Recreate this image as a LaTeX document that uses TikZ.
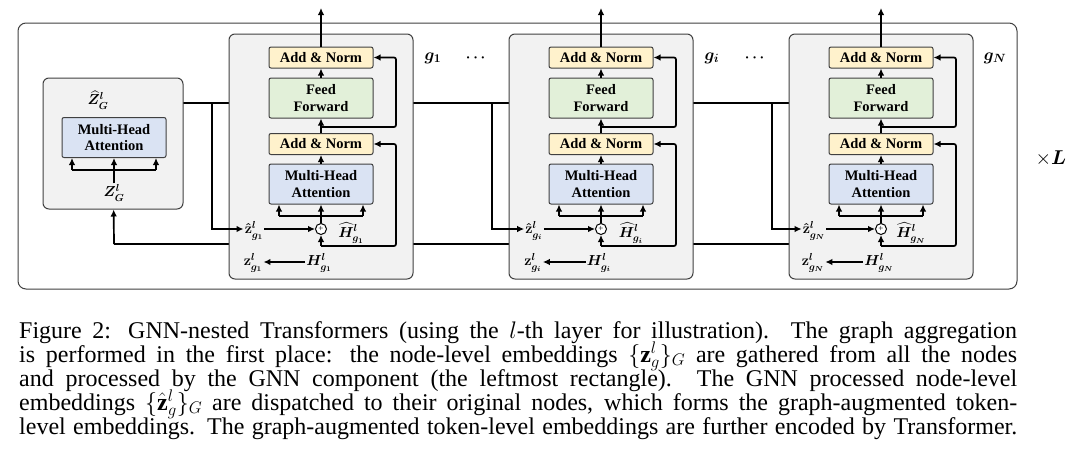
\RequirePackage{fix-cm}
\documentclass[tikz,border=0pt]{standalone}
\usepackage{amsmath,amssymb,bm}
\usepackage{fontspec}
\setmainfont{Liberation Serif}
\usetikzlibrary{arrows.meta,calc}
\definecolor{NormYellow}{RGB}{255,242,204}
\definecolor{FFGreen}{RGB}{226,240,217}
\definecolor{AttnBlue}{RGB}{218,227,243}
\definecolor{PanelGray}{RGB}{242,242,242}
\definecolor{EdgeGray}{RGB}{64,64,64}
\pgfdeclarelayer{back}
\pgfdeclarelayer{boxes}
\pgfsetlayers{back,boxes,main}
\tikzset{
	blk/.style={draw=EdgeGray,rounded corners=2pt,line width=1pt,minimum width=104pt,
		inner sep=0pt,align=center,font=\fontsize{14.5}{16.5}\selectfont\bfseries},
	norm/.style={blk,fill=NormYellow,minimum height=21pt},
	ffn/.style={blk,fill=FFGreen,minimum height=40pt},
	attn/.style={blk,fill=AttnBlue,minimum height=40pt},
	panel/.style={draw=EdgeGray,fill=PanelGray,rounded corners=6pt,line width=1pt},
	outer/.style={draw=EdgeGray,fill=white,rounded corners=8pt,line width=1pt},
	wire/.style={draw=black,line width=1.7pt},
	arr/.style={wire,-{Latex[length=7pt,width=6.5pt]}},
	lbl/.style={inner sep=1pt,font=\boldmath\fontsize{14.5}{16}\selectfont},
	glbl/.style={inner sep=1pt,font=\boldmath\fontsize{17}{19}\selectfont},
	plus/.style={circle,draw=black,line width=1pt,fill=white,minimum size=11pt,inner sep=0pt,
		font=\fontsize{9}{9}\selectfont},
	captxt/.style={anchor=base west,inner sep=0pt,font=\fontsize{24}{24}\selectfont},
}

\begin{document}
\begin{tikzpicture}[x=1pt,y=-1pt]
\useasboundingbox (0,0) rectangle (1080,456);

% GNN component
\node[attn] (gmha) at (114,137.5) {Multi-Head\\Attention};
\node[lbl] (zG) at (114,193) {$Z^{l}_{G}$};
\node[lbl] (zhG) at (98,100) {$\widehat{Z}^{l}_{G}$};
\coordinate (gin) at (114,170);
\draw[wire] (zG) -- (gin);
\draw[wire] ($(gin)+(-42,0)$) -- ($(gin)+(42,0)$);
\foreach \dx in {-42,0,42}
	\draw[arr] ($(gin)+(\dx,0)$) -- ($(gmha.south)+(\dx,0)$);

% transformer blocks
\foreach \c/\n in {321/1,601/i,881/N} {
	\node[norm] (an2\n) at (\c,57.5) {Add \& Norm};
	\node[ffn] (ff\n) at (\c,98) {Feed\\Forward};
	\node[norm] (an1\n) at (\c,144) {Add \& Norm};
	\node[attn] (mha\n) at (\c,184) {Multi-Head\\Attention};
	\node[plus] (pl\n) at (\c,229) {+};
	\node[lbl] (zh\n) at (\c-67,231) {$\hat{\mathbf{z}}^{l}_{g_{\n}}$};
	\node[lbl] (Hh\n) at (\c+30,233) {$\widehat{H}^{l}_{g_{\n}}$};
	\node[lbl] (z\n) at (\c-68,263) {$\mathbf{z}^{l}_{g_{\n}}$};
	\node[lbl] (H\n) at (\c-2,263) {$H^{l}_{g_{\n}}$};
	\coordinate (out\n) at (\c,8);
	\coordinate (r2\n) at (\c,127);
	\coordinate (r1\n) at (\c,246);
	\coordinate (sp\n) at (\c,216);
	\coordinate (zd\n) at (\c-109,103);
	\coordinate (zu\n) at (\c-129,262);
	\coordinate (zb\n) at (\c-129,245.5);
	\draw[arr] (an2\n) -- (out\n);
	\draw[arr] (ff\n) -- (an2\n);
	\draw[arr] (an1\n) -- (ff\n);
	\draw[arr] (mha\n) -- (an1\n);
	\draw[arr,rounded corners=2pt] (r2\n) -- (\c+75,127) |- (an2\n);
	\draw[arr,rounded corners=2pt] (r1\n) -- (\c+75,246) |- (an1\n);
	\draw[arr] (r1\n) -- (pl\n);
	\draw[wire] (pl\n) -- (sp\n);
	\draw[wire] ($(sp\n)+(-42,0)$) -- ($(sp\n)+(42,0)$);
	\foreach \dx in {-42,0,42}
		\draw[arr] ($(sp\n)+(\dx,0)$) -- ($(mha\n.south)+(\dx,0)$);
	\draw[arr] (zh\n.east|-pl\n) -- (pl\n);
	\draw[arr] (H\n.west|-zu\n) -- (z\n.east|-zu\n);
	\draw[arr] (zd\n) |- (zh\n.west|-pl\n);
	\begin{pgfonlayer}{back}
		\draw[arr] (z\n) -- (zu\n) -- (zb\n);
	\end{pgfonlayer}
}

\node[glbl] (g1) at (433,58) {$g_{1}$};
\node[lbl] (dots1) at (477,58) {$\cdots$};
\node[glbl] (gi) at (712,58) {$g_{i}$};
\node[lbl] (dots2) at (756,58) {$\cdots$};
\node[glbl] (gN) at (995,58) {$g_{N}$};
\node[lbl,font=\fontsize{20}{22}\selectfont] (times) at (1051,158) {$\times\bm{L}$};

% panels and buses
\begin{pgfonlayer}{boxes}
	\node[panel,minimum width=140pt,minimum height=131pt] (gnn) at (113,143.5) {};
	\foreach \c/\n in {321/1,601/i,881/N}
		\node[panel,minimum width=184pt,minimum height=245pt] (tf\n) at (\c,156.5) {};
\end{pgfonlayer}
\begin{pgfonlayer}{back}
	\node[outer,minimum width=999pt,minimum height=266pt] (frame) at (517.5,156) {};
	\coordinate (ztop) at (114,103);
	\coordinate (topend) at (789,103);
	\coordinate (zbot) at (114,244);
	\coordinate (botend) at (789,244);
	\draw[wire] (gmha) -- (ztop) -- (topend);
	\draw[wire] (zbot) -- (botend);
\end{pgfonlayer}
\draw[arr] (zbot) -- (gnn);

% caption
\node[captxt] (cap1) at (19,338) {\makebox[998pt][s]{Figure 2: GNN-nested Transformers (using the $l$-th layer for illustration). The graph aggregation}};
\node[captxt] (cap2) at (19,362) {\makebox[998pt][s]{is performed in the first place: the node-level embeddings $\{\mathbf{z}^{l}_{g}\}_{G}$ are gathered from all the nodes}};
\node[captxt] (cap3) at (19,386) {\makebox[998pt][s]{and processed by the GNN component (the leftmost rectangle). The GNN processed node-level}};
\node[captxt] (cap4) at (19,410) {\makebox[998pt][s]{embeddings $\{\hat{\mathbf{z}}^{l}_{g}\}_{G}$ are dispatched to their original nodes, which forms the graph-augmented token-}};
\node[captxt] (cap5) at (19,434) {\makebox[998pt][s]{level embeddings. The graph-augmented token-level embeddings are further encoded by Transformer.}};
\end{tikzpicture}
\end{document}
